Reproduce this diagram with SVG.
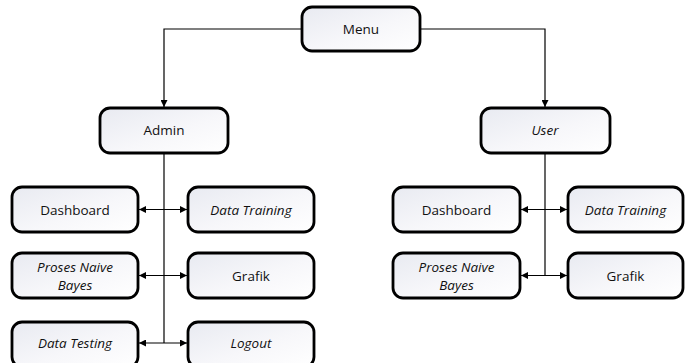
<svg xmlns="http://www.w3.org/2000/svg" width="690" height="363" viewBox="0 0 690 363">
  <style>
    .box { fill: url(#boxFill); stroke: #000; stroke-width: 2.8; }
    .lbl { font-family: "Open Sans", "Liberation Sans", sans-serif; font-size: 13.5px; fill: #111; text-anchor: middle; dominant-baseline: central; }
    .it { font-style: italic; }
    .link { fill: none; stroke: #000; stroke-width: 1.2; }
  </style>
  <defs>
    <linearGradient id="boxFill" x1="0" y1="0" x2="1" y2="1">
      <stop offset="0" stop-color="#e8eaf1"/>
      <stop offset="0.55" stop-color="#f7f7fa"/>
      <stop offset="1" stop-color="#ffffff"/>
    </linearGradient>
    <marker id="arrow" viewBox="0 0 10 10" refX="10" refY="5" markerWidth="7" markerHeight="7" markerUnits="userSpaceOnUse" orient="auto-start-reverse">
      <path d="M0,0 L10,5 L0,10 Z" fill="#000"/>
    </marker>
  </defs>

  <rect width="690" height="363" fill="#fff"/>

  <!-- connectors -->
  <g id="connectors">
    <path class="link" d="M302,29 H164 V107" marker-end="url(#arrow)"/>
    <path class="link" d="M420,29 H545 V107" marker-end="url(#arrow)"/>
    <path class="link" d="M164,153 V343"/>
    <path class="link" d="M139,209.5 H187" marker-start="url(#arrow)" marker-end="url(#arrow)"/>
    <path class="link" d="M139,275.5 H187" marker-start="url(#arrow)" marker-end="url(#arrow)"/>
    <path class="link" d="M139,343 H187" marker-start="url(#arrow)" marker-end="url(#arrow)"/>
    <path class="link" d="M545,153 V275.5"/>
    <path class="link" d="M521,209.5 H567" marker-start="url(#arrow)" marker-end="url(#arrow)"/>
    <path class="link" d="M521,275.5 H567" marker-start="url(#arrow)" marker-end="url(#arrow)"/>
  </g>

  <g id="menu">
    <rect class="box" x="302" y="7" width="118" height="44" rx="10"/>
    <text class="lbl" x="361" y="29">Menu</text>
  </g>

  <g id="admin">
    <rect class="box" x="100" y="108" width="128" height="45" rx="10"/>
    <text class="lbl" x="164" y="130">Admin</text>
  </g>
  <g id="user">
    <rect class="box" x="481" y="108" width="129" height="45" rx="10"/>
    <text class="lbl it" x="545" y="130">User</text>
  </g>

  <!-- admin menu items -->
  <g id="admin-dashboard">
    <rect class="box" x="12" y="187" width="126" height="45" rx="10"/>
    <text class="lbl" x="75" y="209.5">Dashboard</text>
  </g>
  <g id="admin-data-training">
    <rect class="box" x="188" y="187" width="126" height="45" rx="10"/>
    <text class="lbl it" x="251" y="209.5">Data Training</text>
  </g>
  <g id="admin-proses-naive-bayes">
    <rect class="box" x="12" y="253" width="126" height="45" rx="10"/>
    <text class="lbl it" x="75" y="267">Proses Naive</text>
    <text class="lbl it" x="75" y="284.5">Bayes</text>
  </g>
  <g id="admin-grafik">
    <rect class="box" x="188" y="253" width="126" height="45" rx="10"/>
    <text class="lbl" x="251" y="275.5">Grafik</text>
  </g>
  <g id="admin-data-testing">
    <rect class="box" x="12" y="322" width="126" height="45" rx="10"/>
    <text class="lbl it" x="75" y="343">Data Testing</text>
  </g>
  <g id="admin-logout">
    <rect class="box" x="188" y="322" width="126" height="45" rx="10"/>
    <text class="lbl it" x="251" y="343">Logout</text>
  </g>

  <!-- user menu items -->
  <g id="user-dashboard">
    <rect class="box" x="393" y="187" width="127" height="45" rx="10"/>
    <text class="lbl" x="456.5" y="209.5">Dashboard</text>
  </g>
  <g id="user-data-training">
    <rect class="box" x="568" y="187" width="115" height="45" rx="10"/>
    <text class="lbl it" x="625.5" y="209.5">Data Training</text>
  </g>
  <g id="user-proses-naive-bayes">
    <rect class="box" x="393" y="253" width="127" height="45" rx="10"/>
    <text class="lbl it" x="456.5" y="267">Proses Naive</text>
    <text class="lbl it" x="456.5" y="284.5">Bayes</text>
  </g>
  <g id="user-grafik">
    <rect class="box" x="568" y="253" width="115" height="45" rx="10"/>
    <text class="lbl" x="625.5" y="275.5">Grafik</text>
  </g>
</svg>
